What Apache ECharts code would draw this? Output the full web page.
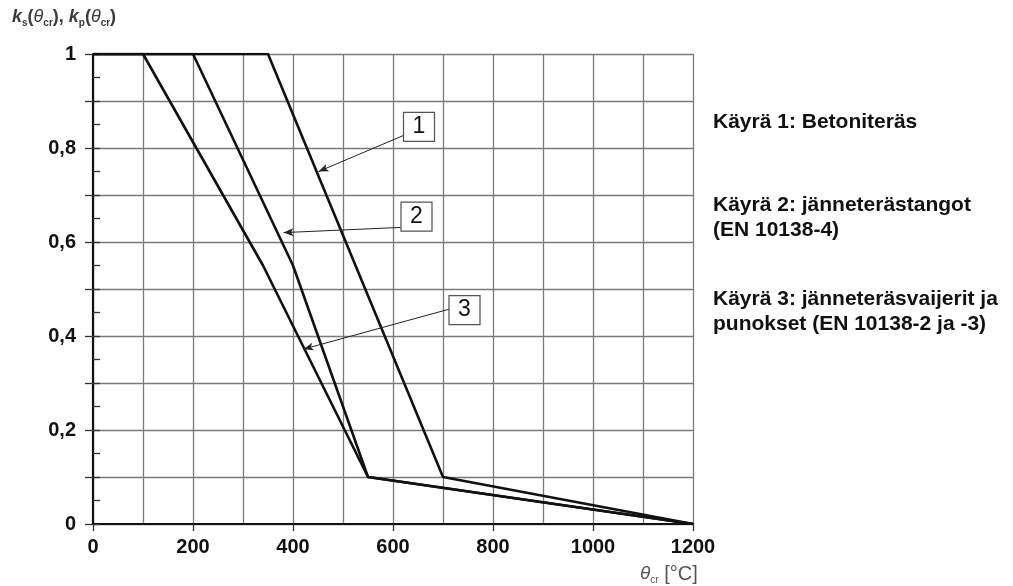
<!DOCTYPE html>
<html>
<head>
<meta charset="utf-8">
<script src="https://cdn.jsdelivr.net/npm/echarts@6/dist/echarts.min.js"></script>
<style>
  html, body { margin: 0; padding: 0; background: #fff; }
  #chart { width: 1013px; height: 586px; }
</style>
</head>
<body>
<div id="chart"></div>
<script>
// Reduction factor curves k(θcr) against critical temperature θcr [°C]
const curve1 = [[0, 1], [350, 1], [700, 0.1], [1200, 0]];           // Betoniteräs
const curve2 = [[0, 1], [200, 1], [400, 0.55], [550, 0.1], [1200, 0]]; // jänneterästangot
const curve3 = [[0, 1], [100, 1], [340, 0.55], [550, 0.1], [1200, 0]]; // jänneteräsvaijerit ja punokset

// Axis ranges and tick labels
const xTickValues = [0, 200, 400, 600, 800, 1000, 1200];
const xTickLabels = ['0', '200', '400', '600', '800', '1000', '1200'];
const yTickValues = [0, 0.2, 0.4, 0.6, 0.8, 1];
const yTickLabels = ['0', '0,2', '0,4', '0,6', '0,8', '1'];

// Numbered callouts: box position and the point on the curve the leader arrow reaches
const calloutText = ['1', '2', '3'];
const calloutBox = [[652, 0.845], [647, 0.654], [743, 0.455]];
const calloutStart = [[624, 0.828], [615, 0.631], [712, 0.457]];
const calloutTip = [[451, 0.75], [381, 0.62], [421, 0.372]];

// Curve descriptions on the right
const curveNotes = [
  'Käyrä 1: Betoniteräs',
  'Käyrä 2: jänneterästangot\n(EN 10138-4)',
  'Käyrä 3: jänneteräsvaijerit ja\npunokset (EN 10138-2 ja -3)'
];

const FONT = '"Liberation Sans", Arial, sans-serif';
const GRID_COLOR = '#7a7a7a';
const INK = '#111';
const LABEL_GREY = '#3a3a3a';

function labelFor(values, texts, v) {
  for (let i = 0; i < values.length; i++) {
    if (Math.abs(values[i] - v) < 1e-6) return texts[i];
  }
  return '';
}

function calloutMarks(i) {
  return {
    markPoint: {
      silent: true,
      symbol: 'rect',
      symbolSize: [31, 29],
      itemStyle: { color: '#fff', borderColor: '#555', borderWidth: 1.2 },
      label: {
        show: true, position: 'inside', color: INK,
        fontFamily: FONT, fontSize: 23, formatter: calloutText[i]
      },
      data: [{ coord: calloutBox[i] }],
      z: 5
    },
    markLine: {
      silent: true,
      symbol: ['none', 'arrow'],
      symbolSize: [6, 10],
      label: { show: false },
      lineStyle: { color: '#222', width: 1, type: 'solid' },
      data: [[{ coord: calloutStart[i] }, { coord: calloutTip[i] }]]
    }
  };
}

function curveSeries(name, data, i) {
  return Object.assign({
    name: name,
    type: 'line',
    data: data,
    xAxisIndex: 0,
    yAxisIndex: 0,
    symbol: 'none',
    lineStyle: { color: INK, width: 2.6 },
    z: 4
  }, calloutMarks(i));
}

const chart = echarts.init(document.getElementById('chart'), null, { renderer: 'canvas' });

chart.setOption({
  animation: false,
  backgroundColor: '#fff',
  grid: { left: 93, right: 320, top: 54, bottom: 62, containLabel: false },
  title: [
    {
      left: 12, top: 6, padding: 0,
      text: '{k|k}{sub|s}{p|(}{th|θ}{sub|cr}{p|), }{k|k}{sub|p}{p|(}{th|θ}{sub|cr}{p|)}',
      textStyle: {
        rich: {
          k: { fontFamily: FONT, fontSize: 18, fontWeight: 'bold', fontStyle: 'italic', color: LABEL_GREY },
          sub: { fontFamily: FONT, fontSize: 10, fontWeight: 'bold', color: LABEL_GREY, verticalAlign: 'bottom', lineHeight: 22 },
          p: { fontFamily: FONT, fontSize: 18, fontWeight: 'bold', color: LABEL_GREY },
          th: { fontFamily: FONT, fontSize: 18, fontWeight: 'normal', fontStyle: 'italic', color: LABEL_GREY }
        }
      }
    },
    {
      left: 640, top: 563, padding: 0,
      text: '{th|θ}{sub|cr}{t| [°C]}',
      textStyle: {
        fontWeight: 'normal',
        rich: {
          th: { fontFamily: FONT, fontSize: 19, fontWeight: 'normal', fontStyle: 'italic', color: '#555' },
          sub: { fontFamily: FONT, fontSize: 10, fontWeight: 'normal', color: '#555', verticalAlign: 'bottom', lineHeight: 22 },
          t: { fontFamily: FONT, fontSize: 20, fontWeight: 'normal', color: '#555' }
        }
      }
    },
    {
      left: 713, top: 110, padding: 0, text: curveNotes[0],
      textStyle: { fontFamily: FONT, fontSize: 21, fontWeight: 'bold', color: INK, lineHeight: 25 }
    },
    {
      left: 713, top: 193, padding: 0, text: curveNotes[1],
      textStyle: { fontFamily: FONT, fontSize: 21, fontWeight: 'bold', color: INK, lineHeight: 25 }
    },
    {
      left: 713, top: 287, padding: 0, text: curveNotes[2],
      textStyle: { fontFamily: FONT, fontSize: 21, fontWeight: 'bold', color: INK, lineHeight: 25 }
    }
  ],
  xAxis: [
    {
      // grid of 100 °C
      type: 'value', position: 'bottom', min: 0, max: 1200, interval: 100,
      axisLine: { show: false }, axisTick: { show: false }, axisLabel: { show: false },
      splitLine: { show: true, lineStyle: { color: GRID_COLOR, width: 1.3 } }
    },
    {
      // labelled axis every 200 °C
      type: 'value', position: 'bottom', min: 0, max: 1200, interval: 200,
      axisLine: { show: true, onZero: false, lineStyle: { color: INK, width: 2.2 } },
      axisTick: { show: true, length: 7, lineStyle: { color: '#333', width: 1.3 } },
      axisLabel: {
        show: true, margin: 13, color: INK, fontFamily: FONT, fontSize: 20, fontWeight: 'bold',
        formatter: v => labelFor(xTickValues, xTickLabels, v)
      },
      splitLine: { show: false }
    }
  ],
  yAxis: [
    {
      type: 'value', position: 'left', min: 0, max: 1, interval: 0.1,
      axisLine: { show: true, onZero: false, lineStyle: { color: INK, width: 2.2 } },
      axisTick: { show: true, length: 8, lineStyle: { color: '#333', width: 1.3 } },
      axisLabel: {
        show: true, margin: 17, color: INK, fontFamily: FONT, fontSize: 20, fontWeight: 'bold',
        formatter: v => labelFor(yTickValues, yTickLabels, v)
      },
      splitLine: { show: true, lineStyle: { color: GRID_COLOR, width: 1.3 } }
    },
    {
      // inner half-step ticks
      type: 'value', position: 'left', min: 0, max: 1, interval: 0.05,
      axisLine: { show: false },
      axisTick: { show: true, inside: true, length: 7, lineStyle: { color: '#333', width: 1.3 } },
      axisLabel: { show: false },
      splitLine: { show: false }
    }
  ],
  series: [
    curveSeries('Käyrä 1', curve1, 0),
    curveSeries('Käyrä 2', curve2, 1),
    curveSeries('Käyrä 3', curve3, 2)
  ]
});
</script>
</body>
</html>
